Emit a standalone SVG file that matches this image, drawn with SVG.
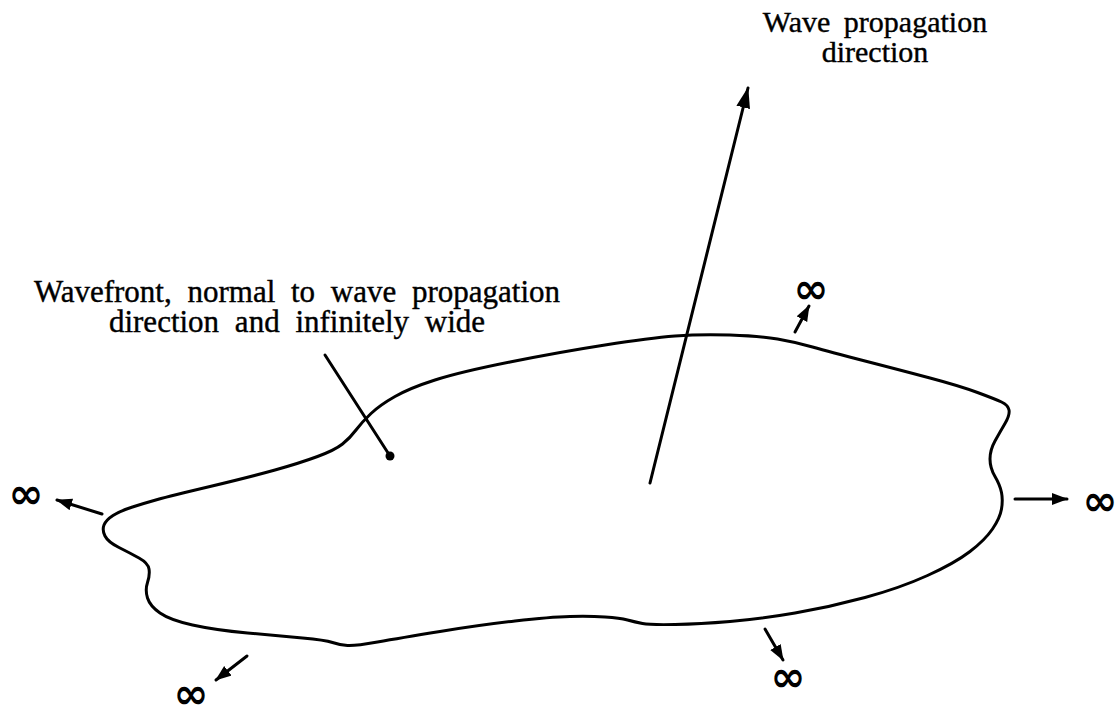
<svg xmlns="http://www.w3.org/2000/svg" width="1116" height="711" viewBox="0 0 1116 711">
<style>
.lbl{font-family:"Liberation Serif","Times New Roman",serif;fill:#000;stroke:#000;stroke-width:0.4;text-anchor:middle}
.wf{font-size:31px;word-spacing:8px}
.wp{font-size:30px;word-spacing:6px}
.inf{font-family:"DejaVu Sans",sans-serif;font-size:42px;font-weight:bold;fill:#000;text-anchor:middle}
.ln{stroke:#000;stroke-width:3;fill:none;stroke-linecap:round}
</style>
<defs>
<marker id="bigHead" markerUnits="userSpaceOnUse" markerWidth="24" markerHeight="16" refX="20" refY="7" orient="auto">
<path d="M0,0 L21,7 L0,14 Z" fill="#000"/>
</marker>
<marker id="head" markerUnits="userSpaceOnUse" markerWidth="18" markerHeight="14" refX="15" refY="6" orient="auto">
<path d="M0,0 L16,6 L0,12 Z" fill="#000"/>
</marker>
</defs>
<rect width="1116" height="711" fill="#fff"/>
<g id="wavefront">
<path class="ln" stroke-width="3.3" d="M105,536 Q102,530 104,525 Q106,520 113,515.5 Q120,511 132.5,507 Q145,503 157.5,499.5 Q170,496 210,486.5 Q250,477 275,470 Q300,463 317.5,456.5 Q335,450 342.5,444 Q350,438 356,430 Q362,422 371,413.5 Q380,405 395,396.5 Q410,388 435,380 Q460,372 510,362 Q560,352 605,345 Q650,338 675,336 Q700,334 730,335 Q760,336 777.5,339 Q795,342 812.5,347 Q830,352 865,361 Q900,370 930,378 Q960,386 977.5,392.5 Q995,399 1001.5,402 Q1008,405 1009,410 Q1010,415 1005,423.5 Q1000,432 995,441 Q990,450 990,459 Q990,468 995,476.5 Q1000,485 1001.5,492.5 Q1003,500 1001.5,509 Q1000,518 992.5,529 Q985,540 970,551.5 Q955,563 927.5,575.5 Q900,588 865,597.5 Q830,607 795,613 Q760,619 730,621.5 Q700,624 675,624.5 Q650,625 642.5,623.5 Q635,622 627.5,620 Q620,618 605,617 Q590,616 570,616.5 Q550,617 515,621 Q480,625 440,631.5 Q400,638 377.5,642 Q355,646 347.5,645.5 Q340,645 332.5,642.5 Q325,640 302.5,638 Q280,636 247.5,633 Q215,630 192.5,625 Q170,620 160,613 Q150,606 147.5,598 Q145,590 147.5,582.5 Q150,575 149,569 Q148,563 139,558 Q130,553 119,547.5 Q108,542 105,536 Z"/>
</g>
<g id="wavefront-label">
<text class="lbl wf"><tspan x="297" y="302">Wavefront, normal to wave propagation</tspan><tspan x="297" y="332">direction and infinitely wide</tspan></text>
</g>
<g id="direction-label">
<text class="lbl wp"><tspan x="875" y="32">Wave propagation</tspan><tspan x="875" y="62">direction</tspan></text>
</g>
<g id="infinities">
<text class="inf" x="26" y="508">∞</text>
<text class="inf" x="1100" y="515">∞</text>
<text class="inf" x="191" y="708">∞</text>
<text class="inf" x="788" y="691">∞</text>
<text class="inf" x="811" y="303">∞</text>
</g>
<g id="connectors">
<line class="ln" x1="650" y1="483" x2="748" y2="88" marker-end="url(#bigHead)"/>
<line class="ln" x1="325" y1="355" x2="390" y2="456"/>
<circle cx="390" cy="456" r="4.5" fill="#000"/>
<line class="ln" x1="102" y1="514" x2="57" y2="500" marker-end="url(#head)"/>
<line class="ln" x1="1015" y1="499" x2="1067" y2="499" marker-end="url(#head)"/>
<line class="ln" x1="247" y1="656" x2="216" y2="680" marker-end="url(#head)"/>
<line class="ln" x1="765" y1="629" x2="783" y2="660" marker-end="url(#head)"/>
<line class="ln" x1="795" y1="332" x2="809" y2="306" marker-end="url(#head)"/>
</g>
</svg>
